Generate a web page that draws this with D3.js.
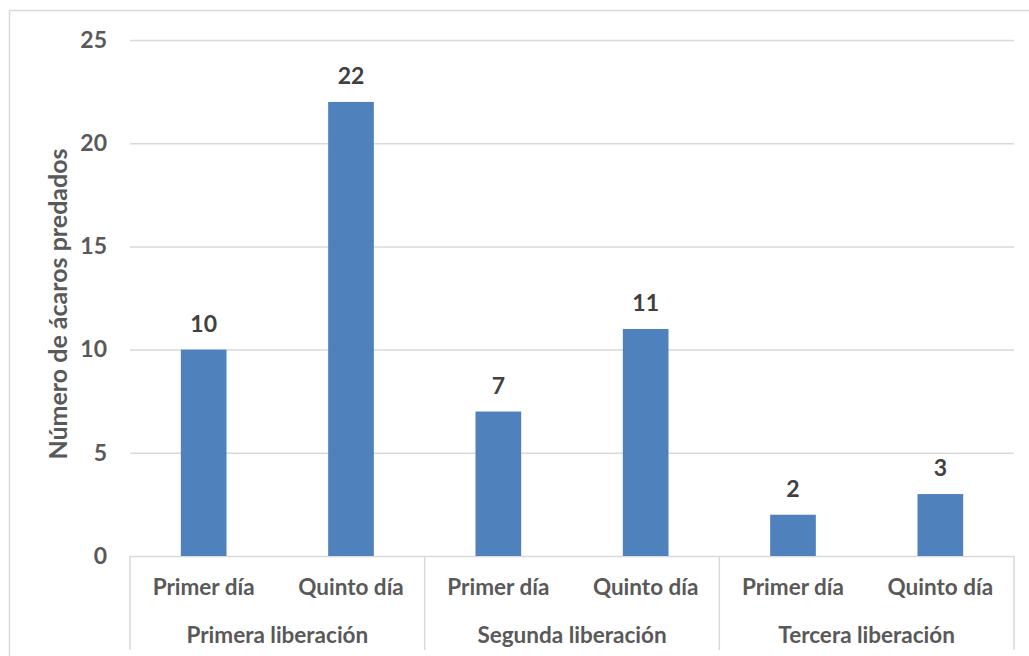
<!DOCTYPE html>
<html><head><meta charset="utf-8">
<script src="https://cdn.jsdelivr.net/npm/d3@7"></script>
<style>body{margin:0;background:#fff}svg{display:block}text{font-family:Lato,"Open Sans",sans-serif;font-weight:bold;fill:#595959}</style>
</head><body>
<svg id="c" width="1029" height="656"></svg>
<script>
const groups = ["Primera liberación","Segunda liberación","Tercera liberación"];
const days = ["Primer día","Quinto día"];
const values = [10,22,7,11,2,3];
const yTicks = [0,5,10,15,20,25];
const yTitle = "Número de ácaros predados";

const svg = d3.select("#c");
const L=130,R=1014,T=40,B=556;
const rows = [];
groups.forEach((g,gi)=>days.forEach((d,di)=>rows.push({g,d,key:gi+"-"+di,v:values[gi*2+di]})));

svg.append("rect").attr("x",9.5).attr("y",10.5).attr("width",1040).attr("height",700)
  .attr("fill","none").attr("stroke","#d9d9d9").attr("stroke-width",1.5);

const x = d3.scaleBand().domain(rows.map(r=>r.key)).range([L,R]).paddingInner(0.69).paddingOuter(0.345);
const xg = d3.scaleBand().domain(groups).range([L,R]);
const y = d3.scaleLinear().domain([0,25]).range([B,T]);

svg.append("g").selectAll("line").data(yTicks).join("line")
  .attr("x1",L).attr("x2",R).attr("y1",d=>y(d)+0.5).attr("y2",d=>y(d)+0.5)
  .attr("stroke","#d9d9d9").attr("stroke-width",1.5);

const ya = svg.append("g").attr("transform",`translate(${L},0)`).call(d3.axisLeft(y).tickValues(yTicks).tickSize(0).tickPadding(23));
ya.select(".domain").remove();
ya.selectAll("text").style("font-size","23px").style("font-family","Lato,sans-serif").style("font-weight","bold").attr("fill","#595959");

svg.append("g").selectAll("rect").data(rows).join("rect")
  .attr("x",r=>x(r.key)).attr("width",x.bandwidth())
  .attr("y",r=>y(r.v)).attr("height",r=>y(0)-y(r.v)).attr("fill","#4f81bd");

svg.append("g").selectAll("text").data(rows).join("text")
  .attr("x",r=>x(r.key)+x.bandwidth()/2).attr("y",r=>y(r.v)-18)
  .attr("text-anchor","middle").style("font-size","23px").style("fill","#404040").text(r=>r.v);

// category separators
const seps = groups.map(g=>xg(g)).concat([R]);
svg.append("g").selectAll("line").data(seps).join("line")
  .attr("x1",d=>d).attr("x2",d=>d).attr("y1",B).attr("y2",650)
  .attr("stroke","#d9d9d9").attr("stroke-width",1.5);

svg.append("g").selectAll("text").data(rows).join("text")
  .attr("x",r=>x(r.key)+x.bandwidth()/2).attr("y",595)
  .attr("text-anchor","middle").style("font-size","22.5px").text(r=>r.d);

svg.append("g").selectAll("text").data(groups).join("text")
  .attr("x",g=>xg(g)+xg.bandwidth()/2).attr("y",643)
  .attr("text-anchor","middle").style("font-size","22.5px").text(g=>g);

svg.append("text").attr("transform","translate(67,304) rotate(-90)")
  .attr("text-anchor","middle").style("font-size","25px").text(yTitle);
</script>
</body></html>
